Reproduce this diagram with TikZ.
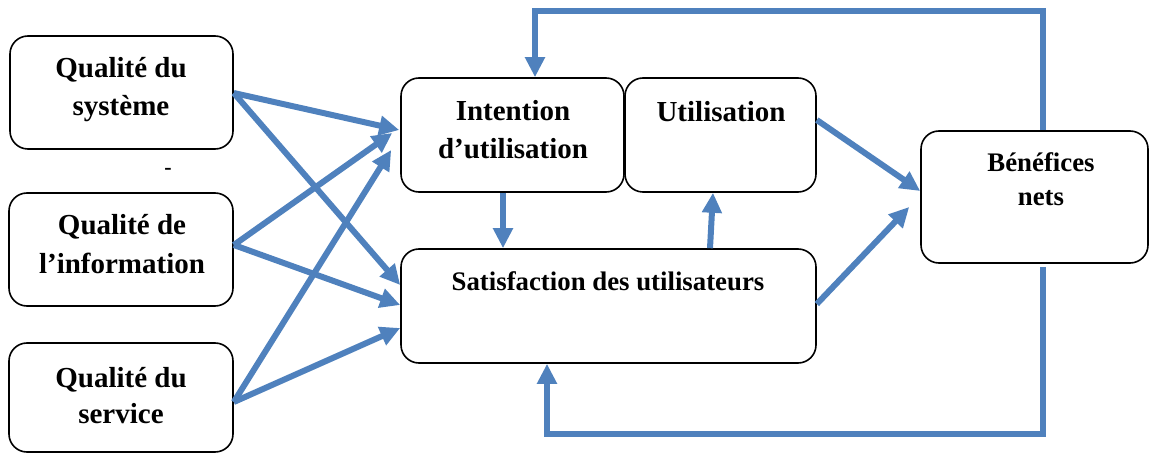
\documentclass[tikz,border=0pt]{standalone}
\usepackage{fontspec}
\setmainfont{Liberation Serif}
\usetikzlibrary{arrows.meta}
\definecolor{flow}{RGB}{79,129,189}
\begin{document}
\begin{tikzpicture}[x=1pt,y=-1pt,
  box/.style={draw=black,line width=1.6pt,rounded corners=18pt,rectangle,inner sep=0pt},
  txt/.style={anchor=base,inner sep=0pt,font=\fontsize{29}{35}\selectfont\bfseries},
  smalltxt/.style={anchor=base,inner sep=0pt,font=\fontsize{26.8}{32}\selectfont\bfseries},
  link/.style={draw=flow,line width=6pt,-{Triangle[length=20pt,width=19pt]}},
  loop/.style={draw=flow,line width=6pt,line join=miter,-{Triangle[length=20pt,width=19pt]}}]
\useasboundingbox (0,0) rectangle (1150,454);

% boxes
\node[box,minimum width=223,minimum height=113] (qs)   at (121.5,92.5) {};
\node[box,minimum width=224,minimum height=113] (qi)   at (121,249.5) {};
\node[box,minimum width=224,minimum height=109] (qser) at (121,397.5) {};
\node[box,minimum width=223,minimum height=114] (int)  at (512.5,135) {};
\node[box,minimum width=191,minimum height=114] (uti)  at (720.5,135) {};
\node[box,minimum width=415,minimum height=114] (sat)  at (608.5,306) {};
\node[box,minimum width=227,minimum height=132] (ben)  at (1034.5,197) {};

% labels
\node[txt] (qsa) at (121,78) {Qualité du};
\node[txt] (qsb) at (121,116) {système};
\node[anchor=base,inner sep=0pt,font=\fontsize{22}{26}\selectfont\bfseries] (sep) at (168,175) {-};
\node[txt] (qia) at (122,235) {Qualité de};
\node[txt] (qib) at (122,273) {l’information};
\node[txt] (qsera) at (121,387) {Qualité du};
\node[txt] (qserb) at (121,423) {service};
\node[txt] (inta) at (513,121) {Intention};
\node[txt] (intb) at (513,159) {d’utilisation};
\node[txt] (utia) at (721,122) {Utilisation};
\node[smalltxt] (sata) at (608,290) {Satisfaction des utilisateurs};
\node[smalltxt] (bena) at (1041,172) {Bénéfices};
\node[smalltxt] (benb) at (1041,206) {nets};

% influences on intention and satisfaction
\draw[link] ([yshift=-0.5pt]qs.east) -- ([shift={(-1pt,5pt)}]int.west);
\draw[link] ([yshift=-0.5pt]qs.east) -- ([yshift=21pt]sat.west);
\draw[link] ([yshift=4.5pt]qi.east) -- ([shift={(-8pt,2pt)}]int.west);
\draw[link] ([yshift=4.5pt]qi.east) -- ([yshift=1pt]sat.west);
\draw[link] ([yshift=-4.5pt]qser.east) -- ([shift={(-9pt,-15pt)}]int.west);
\draw[link] ([yshift=-4.5pt]qser.east) -- ([yshift=-22pt]sat.west);

% links between the central boxes
\draw[link] ([xshift=-9.5pt]int.south) -- ([xshift=-105.5pt]sat.north);
\draw[link] ([xshift=101.5pt]sat.north) -- ([xshift=-7.5pt]uti.south);
\draw[link] ([yshift=15pt]uti.east) -- ([yshift=6pt]ben.west);
\draw[link] ([yshift=2pt]sat.east) -- ([shift={(-11pt,-10pt)}]ben.west);

% feedback loops
\coordinate (topc) at (535,11);
\coordinate (botc) at (547,434);
\draw[loop] ([xshift=8.5pt]ben.north) |- (topc) -- ([xshift=22.5pt]int.north);
\draw[loop] ([shift={(8.5pt,-3pt)}]ben.south) |- (botc) -- ([xshift=-61.5pt]sat.south);
\end{tikzpicture}
\end{document}
